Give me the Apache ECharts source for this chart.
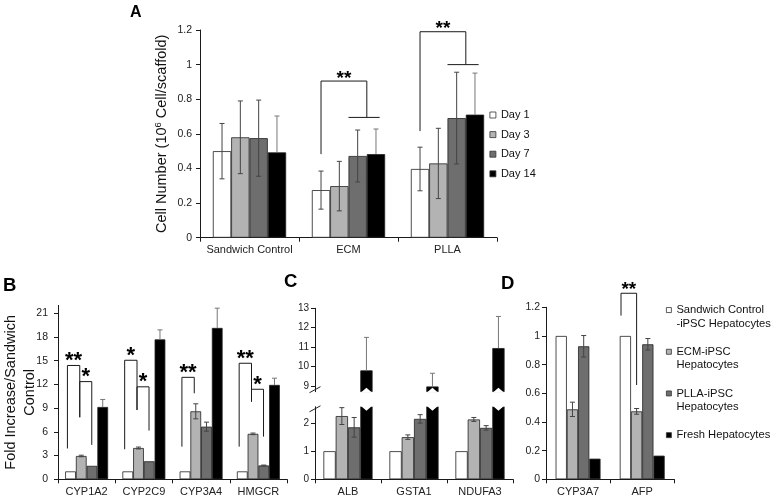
<!DOCTYPE html>
<html><head><meta charset="utf-8">
<script src="https://cdn.jsdelivr.net/npm/echarts@6/dist/echarts.min.js"></script>
<style>html,body{margin:0;padding:0;background:#fff}#c{width:772px;height:498px}</style>
</head><body><div id="c"></div>
<script>
// ---------- Panel A ----------
const catsA = ['Sandwich Control', 'ECM', 'PLLA'];
const namesA = ['Day 1', 'Day 3', 'Day 7', 'Day 14'];
const day1 = [0.50, 0.275, 0.397];
const day3 = [0.58, 0.298, 0.429];
const day7 = [0.575, 0.472, 0.691];
const day14 = [0.493, 0.483, 0.711];
const day1Err = [0.16, 0.11, 0.126];
const day3Err = [0.21, 0.143, 0.203];
const day7Err = [0.22, 0.15, 0.265];
const day14Err = [0.21, 0.145, 0.24];
const ticksA = [0, 0.2, 0.4, 0.6, 0.8, 1, 1.2];
// [category, fromBar, toBar, yLeft, yTop, yRight, label]
const bracketsA = [[1, 0, 2.5, 0.483, 0.905, 0.695, '**'], [2, 0, 2.5, 0.616, 1.19, 1.0, '**']];

// ---------- Groups for B, C, D ----------
const groupNames = ['Sandwich Control\n-iPSC Hepatocytes', 'ECM-iPSC\nHepatocytes', 'PLLA-iPSC\nHepatocytes', 'Fresh Hepatocytes'];

// ---------- Panel B ----------
const catsB = ['CYP1A2', 'CYP2C9', 'CYP3A4', 'HMGCR'];
const sandB = [1, 1, 1, 1];
const ecmB = [2.95, 3.96, 8.6, 5.75];
const pllaB = [1.7, 2.28, 6.66, 1.75];
const freshB = [9.15, 17.7, 19.15, 11.94];
const sandBErr = [0, 0, 0, 0];
const ecmBErr = [0.1, 0.12, 0.95, 0.1];
const pllaBErr = [0, 0, 0.57, 0.05];
const freshBErr = [0.95, 1.2, 2.5, 0.85];
const ticksB = [0, 3, 6, 9, 12, 15, 18, 21];
const bracketsB = [
  [0, 0, 1, 3.9, 14.4, 7.85, '**'],
  [0, 1, 2, 7.85, 12.36, 4.35, '*'],
  [1, 0, 1, 3.8, 15.06, 8.77, '*'],
  [1, 1, 2, 8.77, 11.7, 6.16, '*'],
  [2, 0, 1, 4.13, 12.9, 10.88, '**'],
  [3, 0, 1, 4.13, 14.68, 9.83, '**'],
  [3, 1, 2, 9.83, 11.39, 5.4, '*']
];

// ---------- Panel C ----------
const catsC = ['ALB', 'GSTA1', 'NDUFA3'];
const sandC = [1, 1, 1];
const ecmC = [2.25, 1.5, 2.13];
const pllaC = [1.85, 2.15, 1.83];
const freshC = [9.8, 8.97, 10.95];
const sandCErr = [0, 0, 0];
const ecmCErr = [0.3, 0.08, 0.07];
const pllaCErr = [0.35, 0.15, 0.08];
const freshCErr = [1.7, 0.68, 1.63];
const ticksCLow = [0, 1, 2];
const ticksCHigh = [9, 10, 11, 12, 13];
const breakLow = 2.58, breakHigh = 8.7;

// ---------- Panel D ----------
const catsD = ['CYP3A7', 'AFP'];
const sandD = [1, 1];
const ecmD = [0.488, 0.474];
const pllaD = [0.928, 0.942];
const freshD = [0.144, 0.165];
const sandDErr = [0, 0];
const ecmDErr = [0.05, 0.02];
const pllaDErr = [0.075, 0.04];
const freshDErr = [0, 0];
const ticksD = [0, 0.2, 0.4, 0.6, 0.8, 1, 1.2];
const bracketsD = [[1, 0, 1, 1.142, 1.298, 0.658, '**']];

// ---------- styles ----------
const FONT = 'Liberation Sans, Arial, sans-serif';
const COLORS = ['#ffffff', '#b3b3b3', '#6e6e6e', '#000000'];
const GAP = { A: 0.26, B: 0.25, C: 0.255, D: 0.30 };
const LEG_B = { 0: -0.29, 1: 0.86, 2: 1.98 };
const LEG_D = { 0: -0.39, 1: 1.0 };

function barOff(i, g) { return -(1 - g) / 2 + (i + 0.5) * (1 - g) / 4; }

function barSeries(gi, names, valsList, g) {
  return valsList.map((vals, i) => ({
    type: 'bar', name: names[i], xAxisIndex: gi, yAxisIndex: gi, data: vals,
    barGap: '0%', barCategoryGap: (g * 100) + '%', silent: true, z: 2,
    itemStyle: { color: COLORS[i], borderColor: '#222', borderWidth: 0.8 }
  }));
}

function errSeries(gi, cats, valsList, errsList, g, upperOnlyIdx) {
  const items = [];
  valsList.forEach((vals, bi) => vals.forEach((v, ci) => {
    const e = errsList[bi][ci];
    if (e && v != null) items.push([ci, v, bi, e]);
  }));
  return {
    type: 'custom', xAxisIndex: gi, yAxisIndex: gi, z: 4, silent: true,
    data: items.map(d => [d[0], d[1]]),
    encode: { x: 0, y: 1 },
    renderItem: function (params, api) {
      const d = items[params.dataIndex];
      const band = api.size([1, 0])[0];
      const c = api.coord([d[0], d[1]]);
      const x = c[0] + barOff(d[2], g) * band;
      const yt = api.coord([d[0], d[1] + d[3]])[1];
      const yb = (d[2] === upperOnlyIdx) ? c[1] : api.coord([d[0], d[1] - d[3]])[1];
      const col = d[2] === 3 ? '#777' : '#444';
      const st = { stroke: col, lineWidth: 1 };
      const ch = [
        { type: 'line', shape: { x1: x, y1: yt, x2: x, y2: yb }, style: st },
        { type: 'line', shape: { x1: x - 2.5, y1: yt, x2: x + 2.5, y2: yt }, style: st }
      ];
      if (d[2] !== upperOnlyIdx) ch.push({ type: 'line', shape: { x1: x - 2.5, y1: yb, x2: x + 2.5, y2: yb }, style: st });
      return { type: 'group', children: ch };
    }
  };
}

function bracketSeries(gi, list, g, legFn, starFs, starDy, tail) {
  return {
    type: 'custom', xAxisIndex: gi, yAxisIndex: gi, z: 5, silent: true,
    data: list.map(b => [b[0], b[4]]),
    encode: { x: 0, y: 1 },
    renderItem: function (params, api) {
      const b = list[params.dataIndex];
      const band = api.size([1, 0])[0];
      const cx = api.coord([b[0], 0])[0];
      const xl = cx + legFn(b[1]) * band;
      const xr = cx + legFn(b[2]) * band;
      const yl = api.coord([b[0], b[3]])[1];
      const yt = api.coord([b[0], b[4]])[1];
      const yr = api.coord([b[0], b[5]])[1];
      const st = { stroke: '#1a1a1a', lineWidth: 1, fill: null };
      const ch = [
        { type: 'polyline', shape: { points: [[xl, yl], [xl, yt], [xr, yt], [xr, yr]] }, style: st },
        { type: 'text', style: { text: b[6], x: (xl + xr) / 2, y: yt - starDy + 0.23 * starFs,
          align: 'center', verticalAlign: 'middle', fontSize: starFs, fontWeight: 'bold', fontFamily: FONT, fill: '#000' } }
      ];
      if (tail) {
        ch.push({ type: 'line', shape: { x1: cx + barOff(tail[0], g) * band, y1: yr, x2: cx + barOff(tail[1], g) * band, y2: yr }, style: st });
      }
      return { type: 'group', children: ch };
    }
  };
}

function notchSeries(gi, cats, v, g, dir) {
  return {
    type: 'custom', xAxisIndex: gi, yAxisIndex: gi, z: 4, silent: true,
    data: cats.map((c, i) => [i, v]), encode: { x: 0, y: 1 },
    renderItem: function (params, api) {
      const band = api.size([1, 0])[0];
      const p = api.coord([params.dataIndex, v]);
      const x = p[0] + barOff(3, g) * band;
      const hw = band * (1 - g) / 8;
      const y = p[1];
      return { type: 'polygon', shape: { points: [[x - hw * 0.75, y], [x, y + dir * 4], [x + hw * 0.75, y], [x + hw + 1, y - dir * 1], [x - hw - 1, y - dir * 1]] },
        style: { fill: '#fff', stroke: null } };
    }
  };
}

function breakMarkSeries(gi, v, dy) {
  return {
    type: 'custom', xAxisIndex: gi, yAxisIndex: gi, z: 6, silent: true,
    data: [[0, v]], encode: { x: 0, y: 1 },
    renderItem: function (params, api) {
      const band = api.size([1, 0])[0];
      const p = api.coord([0, v]);
      const x = p[0] - band / 2, y = p[1] + dy;
      return { type: 'line', shape: { x1: x - 5.5, y1: y + 3, x2: x + 5.5, y2: y - 3 }, style: { stroke: '#222', lineWidth: 1 } };
    }
  };
}

const axisLineStyle = { lineStyle: { color: '#1a1a1a', width: 1 } };
const lblStyle = { color: '#222', fontFamily: FONT };

function xAx(gi, cats, show) {
  return {
    type: 'category', gridIndex: gi, data: cats, show: show !== false,
    axisLine: axisLineStyle, axisTick: { show: true, length: 4, lineStyle: { color: '#1a1a1a' } },
    axisLabel: Object.assign({ fontSize: 11, margin: 7, interval: 0 }, lblStyle), splitLine: { show: false }
  };
}
function yAx(gi, min, max, ticks, fs, margin, fmt) {
  return {
    type: 'value', gridIndex: gi, min: min, max: max,
    axisLine: { show: true, lineStyle: { color: '#1a1a1a', width: 1 } },
    axisTick: { show: true, length: 4, customValues: ticks, lineStyle: { color: '#1a1a1a' } },
    axisLabel: Object.assign({ fontSize: fs, margin: margin, customValues: ticks, formatter: fmt }, lblStyle),
    splitLine: { show: false }
  };
}

const option = {
  animation: false,
  backgroundColor: '#fff',
  title: [
    { text: 'A', left: 130, top: 4.5, padding: 0, textStyle: { fontSize: 16, fontWeight: 'bold', fontFamily: FONT, color: '#000' } },
    { text: 'B', left: 3, top: 276, padding: 0, textStyle: { fontSize: 18.5, fontWeight: 'bold', fontFamily: FONT, color: '#000' } },
    { text: 'C', left: 284, top: 272, padding: 0, textStyle: { fontSize: 18.5, fontWeight: 'bold', fontFamily: FONT, color: '#000' } },
    { text: 'D', left: 501, top: 274.5, padding: 0, textStyle: { fontSize: 18.5, fontWeight: 'bold', fontFamily: FONT, color: '#000' } }
  ],
  grid: [
    { left: 200, top: 30, width: 297, height: 207.7, containLabel: false, outerBoundsMode: 'none' },
    { left: 58, top: 305.4, width: 229, height: 173.9, containLabel: false, outerBoundsMode: 'none' },
    { left: 315, top: 406.8, width: 198, height: 72.5, containLabel: false, outerBoundsMode: 'none' },
    { left: 315, top: 308.3, width: 198, height: 83.4, containLabel: false, outerBoundsMode: 'none' },
    { left: 546, top: 307.3, width: 128.3, height: 172, containLabel: false, outerBoundsMode: 'none' }
  ],
  legend: [
    { orient: 'vertical', left: 489.5, top: 109, padding: 0, itemWidth: 6, itemHeight: 6, itemGap: 7.6,
      data: namesA, selectedMode: false, icon: 'rect',
      itemStyle: { borderColor: '#333', borderWidth: 0.8 },
      textStyle: { fontSize: 11, lineHeight: 12, color: '#111', fontFamily: FONT } },
    { orient: 'vertical', left: 666, top: 289.8, padding: 0, itemWidth: 5, itemHeight: 5, itemGap: 1.2,
      selectedMode: false, icon: 'rect',
      itemStyle: { borderColor: '#333', borderWidth: 0.8 },
      data: groupNames,
      // a blank first line keeps each icon level with the first line of its label
      formatter: function (name) { return name.indexOf('\n') >= 0 ? ' \n' + name : ' \n' + name + '\n '; },
      textStyle: { fontSize: 11.2, lineHeight: 13.5, color: '#111', fontFamily: FONT } }
  ],
  xAxis: [xAx(0, catsA), xAx(1, catsB), xAx(2, catsC), xAx(3, catsC, false), xAx(4, catsD)],
  yAxis: [
    Object.assign(yAx(0, 0, 1.2, ticksA, 10.5, 8), {
      name: '{n|Cell Number (10}{s|6}{n| Cell/scaffold)}', nameLocation: 'middle', nameGap: 29, nameMoveOverlap: false,
      nameTextStyle: { rich: { n: { fontSize: 14.5, lineHeight: 18, fontFamily: FONT, color: '#111' },
        s: { fontSize: 9.5, lineHeight: 10, verticalAlign: 'top', fontFamily: FONT, color: '#111' } } } }),
    Object.assign(yAx(1, 0, 22, ticksB, 10.5, 10), {
      name: 'Fold Increase/Sandwich\nControl', nameLocation: 'middle', nameGap: 19, nameMoveOverlap: false,
      nameTextStyle: { fontSize: 14.5, lineHeight: 18.5, fontFamily: FONT, color: '#111' } }),
    yAx(2, 0, breakLow, ticksCLow, 10, 6),
    yAx(3, breakHigh, 13, ticksCHigh, 10, 6),
    yAx(4, 0, 1.2, ticksD, 10.5, 6)
  ],
  series: [].concat(
    barSeries(0, namesA, [day1, day3, day7, day14], GAP.A),
    [errSeries(0, catsA, [day1, day3, day7, day14], [day1Err, day3Err, day7Err, day14Err], GAP.A, 3)],
    [bracketSeries(0, bracketsA, GAP.A, i => barOff(i, GAP.A), 19, 7, [1.5, 3.2])],

    barSeries(1, groupNames, [sandB, ecmB, pllaB, freshB], GAP.B),
    [errSeries(1, catsB, [sandB, ecmB, pllaB, freshB], [sandBErr, ecmBErr, pllaBErr, freshBErr], GAP.B, 3)],
    [bracketSeries(1, bracketsB, GAP.B, i => barOff(LEG_B[i], GAP.B), 22, 9.5, null)],

    barSeries(2, groupNames, [sandC, ecmC, pllaC, freshC], GAP.C),
    [errSeries(2, catsC, [sandC, ecmC, pllaC, catsC.map(() => null)], [sandCErr, ecmCErr, pllaCErr, freshCErr], GAP.C, 3)],
    [notchSeries(2, catsC, breakLow, GAP.C, 1), breakMarkSeries(2, breakLow, 2)],

    barSeries(3, groupNames, [catsC.map(() => null), catsC.map(() => null), catsC.map(() => null), freshC], GAP.C),
    [errSeries(3, catsC, [sandC, ecmC, pllaC, freshC].map((a, i) => i === 3 ? a : catsC.map(() => null)), [sandCErr, ecmCErr, pllaCErr, freshCErr], GAP.C, 3)],
    [notchSeries(3, catsC, breakHigh, GAP.C, -1), breakMarkSeries(3, breakHigh, -2)],

    barSeries(4, groupNames, [sandD, ecmD, pllaD, freshD], GAP.D),
    [errSeries(4, catsD, [sandD, ecmD, pllaD, freshD], [sandDErr, ecmDErr, pllaDErr, freshDErr], GAP.D, 3)],
    [bracketSeries(4, bracketsD, GAP.D, i => barOff(LEG_D[i], GAP.D), 19, 8.3, null)]
  )
};

const chart = echarts.init(document.getElementById('c'), null, { renderer: 'canvas' });
chart.setOption(option);
</script>
</body></html>
